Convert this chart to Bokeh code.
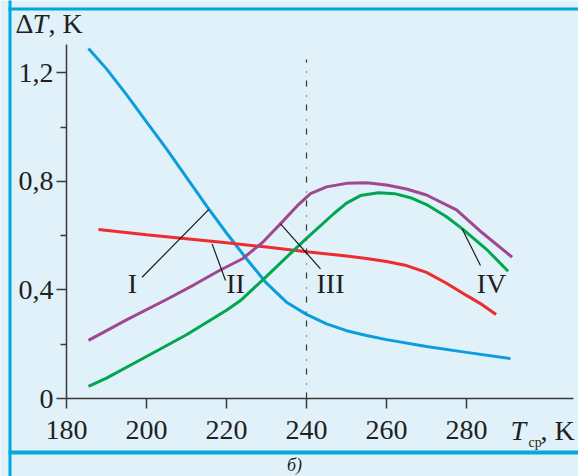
from bokeh.plotting import figure
from bokeh.models import Range1d, FixedTicker, CustomJSTickFormatter, ColumnDataSource
from bokeh.core.properties import value
from bokeh.embed import file_html
from bokeh.resources import INLINE

# ---------------- data ----------------
x_ticks = [180, 200, 220, 240, 260, 280]
y_ticks = [0, 0.4, 0.8, 1.2]
y_minor = [0.2, 0.6, 1.0]

blue_x = [185.5, 190, 195, 200, 205, 210, 215, 220, 225, 230, 235, 240, 245, 250, 255, 260, 270, 280, 291]
blue_y = [1.29, 1.215, 1.12, 1.02, 0.92, 0.815, 0.71, 0.61, 0.515, 0.425, 0.355, 0.31, 0.275, 0.25,
          0.232, 0.217, 0.192, 0.17, 0.147]

red_x = [188, 200, 210, 220, 230, 240, 250, 255, 260, 265, 270, 275, 280, 284, 287.4]
red_y = [0.623, 0.604, 0.589, 0.574, 0.558, 0.541, 0.525, 0.516, 0.505, 0.49, 0.465, 0.425, 0.38,
         0.345, 0.31]

purple_x = [185.5, 195, 205, 212, 218, 224, 229, 234, 238, 241, 245, 250, 255, 260, 265, 270, 277.5,
            284, 291.4]
purple_y = [0.214, 0.29, 0.365, 0.42, 0.47, 0.515, 0.575, 0.652, 0.715, 0.755, 0.78, 0.793, 0.795,
            0.787, 0.772, 0.75, 0.695, 0.61, 0.521]

green_x = [185.5, 190, 200, 210, 215, 220, 223.5, 230, 236.8, 240, 246.8, 250, 253.5, 258, 262, 266,
           270, 275, 278.9, 285, 290.4]
green_y = [0.045, 0.075, 0.155, 0.235, 0.28, 0.325, 0.361, 0.45, 0.546, 0.59, 0.681, 0.72, 0.748,
           0.758, 0.755, 0.74, 0.715, 0.67, 0.626, 0.55, 0.469]

marker_T = 240  # dash-dot vertical line
marker_top = 1.25

curve_names = ["I", "II", "III", "IV"]
label_x = [196.5, 222.25, 246, 286.25]
label_y = [0.424, 0.424, 0.424, 0.424]
leader_x0 = [198.9, 216.4, 233.5, 278.9]
leader_y0 = [0.447, 0.570, 0.644, 0.626]
leader_x1 = [215.6, 219.75, 243.5, 283.5]
leader_y1 = [0.697, 0.435, 0.478, 0.49]

# ---------------- style / layout ----------------
BG = "#e0f1f9"
CYAN = "#00a8dc"
INK = "#231f20"
FONT = "Liberation Serif"
BLUE = "#0c9ddd"
RED = "#ee2b2e"
PURPLE = "#a0488e"
GREEN = "#00a650"

W, H = 578, 476
AX_L, AX_B, AX_T, AX_R = 66, 398, 44, 573   # axis box in pixels
XPX = 4.0        # pixels per kelvin
YPX = 271.3      # pixels per kelvin of dT
x_lo = 180 - AX_L / XPX
x_hi = 180 + (W - AX_L) / XPX
y_lo = -(H - AX_B) / YPX
y_hi = AX_B / YPX

def X(px):
    return 180 + (px - AX_L) / XPX

def Y(py):
    return (AX_B - py) / YPX

p = figure(width=W, height=H, output_backend="svg", toolbar_location=None,
           x_range=Range1d(x_lo, x_hi), y_range=Range1d(y_lo, y_hi),
           min_border=0, min_border_left=0, min_border_right=0, min_border_top=0,
           min_border_bottom=0,
           background_fill_color=BG, border_fill_color=BG, outline_line_color=None)
p.xgrid.visible = False
p.ygrid.visible = False

xa, ya = p.xaxis[0], p.yaxis[0]
xa.fixed_location = 0
ya.fixed_location = 180
xa.bounds = (180, X(AX_R))
ya.bounds = (0, Y(AX_T))
for ax in (xa, ya):
    ax.axis_line_color = "#3a3a3a"
    ax.axis_line_width = 1.5
    ax.major_tick_line_color = "#3a3a3a"
    ax.major_tick_line_width = 1.5
    ax.minor_tick_line_color = "#3a3a3a"
    ax.minor_tick_line_width = 1.5
    ax.major_tick_in = 0
    ax.major_tick_out = 10
    ax.minor_tick_in = 0
    ax.major_label_text_font = FONT
    ax.major_label_text_font_size = "28px"
    ax.major_label_text_color = INK

xa.ticker = FixedTicker(ticks=x_ticks, minor_ticks=[])
xa.minor_tick_out = 0
xa.major_label_standoff = 12
ya.ticker = FixedTicker(ticks=y_ticks, minor_ticks=y_minor)
ya.minor_tick_out = 6
ya.major_label_standoff = 3
ya.formatter = CustomJSTickFormatter(
    code="return tick == 0 ? '0' : tick.toFixed(1).replace('.', ',');")

# panel frame lines (decoration of the figure panel)
p.quad(left=[X(8), X(8), X(8)], right=[X(11), X(W + 10), X(W + 10)],
       top=[Y(-10), Y(7), Y(450)], bottom=[Y(H + 10), Y(10), Y(454)],
       fill_color=CYAN, line_color=None)

# curves
p.line(blue_x, blue_y, line_color=BLUE, line_width=3)
p.line(red_x, red_y, line_color=RED, line_width=3)
p.line(purple_x, purple_y, line_color=PURPLE, line_width=3)
p.line(green_x, green_y, line_color=GREEN, line_width=3)

# dash-dot marker line
p.line([marker_T, marker_T], [0, marker_top], line_color="#333333", line_width=1.2,
       line_dash="6 8 1 9")

# leader lines and roman labels
p.segment(x0=leader_x0, y0=leader_y0, x1=leader_x1, y1=leader_y1, line_color="#1a1a1a",
          line_width=1.2)
src = ColumnDataSource(dict(x=label_x, y=label_y, t=curve_names))
p.text(x="x", y="y", text="t", source=src, text_font=value(FONT), text_font_size="28px",
       text_color=INK, text_align="center", text_baseline="middle")

# axis titles and caption as text glyphs (positioned by their middle)
def lab(txt, px, py, size="28px", style="normal", align="left"):
    p.text(x=[X(px)], y=[Y(py)], text=[txt], text_font=value(FONT), text_font_size=size,
           text_font_style=style, text_color=INK, text_align=align,
           text_baseline="middle")

lab("\u0394", 15, 23)
lab("T", 32, 23, style="italic")
lab(", K", 48, 23)
lab("T", 510, 430, style="italic")
lab("\u0441\u0440", 528, 442, size="14px")
lab(", K", 540, 430)
lab("\u0431)", 294, 464, size="18px", style="italic", align="center")

open("out.html", "w").write(file_html(p, INLINE))
